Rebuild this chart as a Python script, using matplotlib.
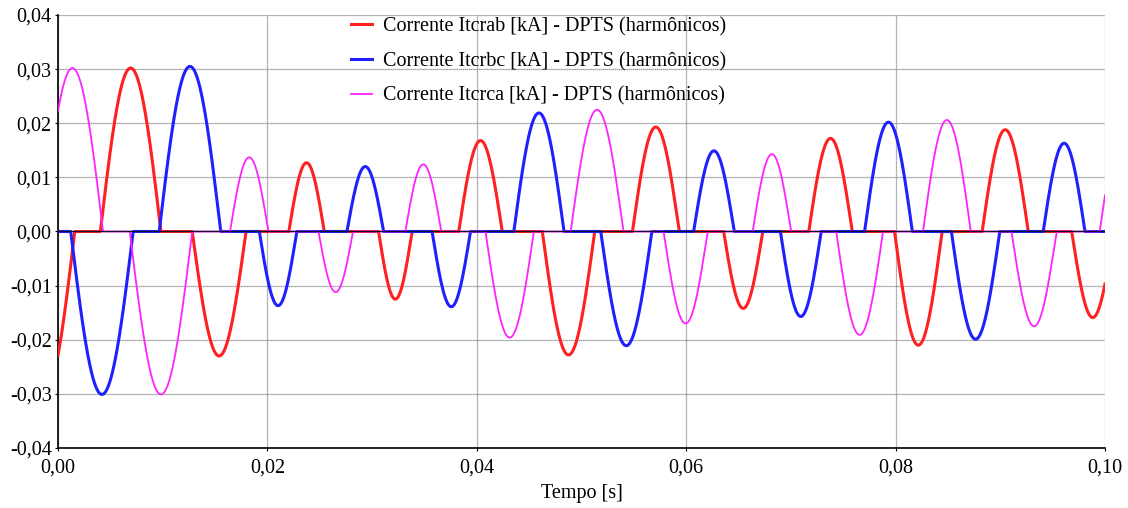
import matplotlib
matplotlib.use('Agg')
import matplotlib.pyplot as plt
from matplotlib.ticker import FuncFormatter, MultipleLocator
import numpy as np

# Conduction pulses: (start [s], end [s], peak [kA])
itcrab_pulses = [
    (-0.0042, 0.0016, -0.0300), (0.00405, 0.00983, 0.0302),
    (0.01282, 0.01796, -0.0230), (0.02205, 0.02543, 0.0127),
    (0.03062, 0.03382, -0.0125), (0.03828, 0.04243, 0.0168),
    (0.04626, 0.05126, -0.0228), (0.05487, 0.05933, 0.0193),
    (0.06358, 0.06731, -0.0142), (0.07171, 0.07586, 0.0172),
    (0.07990, 0.08444, -0.0210), (0.08827, 0.09267, 0.0188),
    (0.09682, 0.10084, -0.0159),
]
itcrbc_pulses = [
    (0.00122, 0.00718, -0.0301), (0.00967, 0.01554, 0.0305),
    (0.01923, 0.02281, -0.0137), (0.02760, 0.03110, 0.0120),
    (0.03573, 0.03940, -0.0139), (0.04354, 0.04833, 0.0219),
    (0.05184, 0.05672, -0.0211), (0.06071, 0.06459, 0.0149),
    (0.06900, 0.07289, -0.0157), (0.07704, 0.08160, 0.0202),
    (0.08533, 0.08995, -0.0199), (0.09410, 0.09809, 0.0163),
]
itcrca_pulses = [
    (-0.00154, 0.00430, 0.0302), (0.00686, 0.01282, -0.0301),
    (0.01643, 0.02010, 0.0137), (0.02488, 0.02817, -0.0112),
    (0.03318, 0.03660, 0.0124), (0.04083, 0.04545, -0.0196),
    (0.04897, 0.05401, 0.0225), (0.05784, 0.06205, -0.0170),
    (0.06635, 0.07002, 0.0143), (0.07433, 0.07880, -0.0191),
    (0.08262, 0.08718, 0.0206), (0.09107, 0.09538, -0.0175),
    (0.09950, 0.10410, 0.0200),
]

labels = [
    'Corrente Itcrab [kA] - DPTS (harmônicos)',
    'Corrente Itcrbc [kA] - DPTS (harmônicos)',
    'Corrente Itcrca [kA] - DPTS (harmônicos)',
]
colors = ['#ff2020', '#2020ff', '#ff22ff']
widths = [2.2, 2.2, 1.3]

t = np.linspace(0, 0.1, 6001)


def waveform(pulses):
    y = np.zeros_like(t)
    for start, end, peak in pulses:
        m = (t >= start) & (t <= end)
        y[m] = peak * np.sin(np.pi * (t[m] - start) / (end - start))
    return y


plt.rcParams['font.family'] = ['Liberation Serif', 'DejaVu Serif']

fig = plt.figure(figsize=(11.28, 5.08), dpi=100)
ax = fig.add_axes([0.0514, 0.1181, 0.9282, 0.8524])

for pulses, c, lw, lab in zip([itcrab_pulses, itcrbc_pulses, itcrca_pulses], colors, widths, labels):
    ax.plot(t, waveform(pulses), color=c, lw=lw, label=lab, zorder=3)
ax.axhline(0, color='#101030', lw=0.9, zorder=4)

ax.set_xlim(0, 0.1)
ax.set_ylim(-0.04, 0.04)
ax.xaxis.set_major_locator(MultipleLocator(0.02))
ax.yaxis.set_major_locator(MultipleLocator(0.01))
fmt = FuncFormatter(lambda v, pos: f'{v:.2f}'.replace('.', ',').replace('-0,00', '0,00'))
ax.xaxis.set_major_formatter(fmt)
ax.yaxis.set_major_formatter(fmt)
ax.tick_params(labelsize=14.5, length=2, pad=2.5, direction='out', color='black')
ax.tick_params(axis='x', pad=5.5)
ax.grid(True, color='#888888', lw=0.9, ls=(0, (1, 0.6)))
ax.set_axisbelow(True)
ax.spines['top'].set_visible(False)
ax.spines['right'].set_visible(False)
ax.spines['left'].set_linewidth(1.2)
ax.spines['bottom'].set_linewidth(1.2)

ax.set_xlabel('Tempo [s]', fontsize=14.5, labelpad=5)

leg = ax.legend(loc='upper left', bbox_to_anchor=(0.2625, 1.037), frameon=False,
                fontsize=14.5, handlelength=1.06, handletextpad=0.55, labelspacing=0.77)

fig.savefig('out.png', dpi=100)
